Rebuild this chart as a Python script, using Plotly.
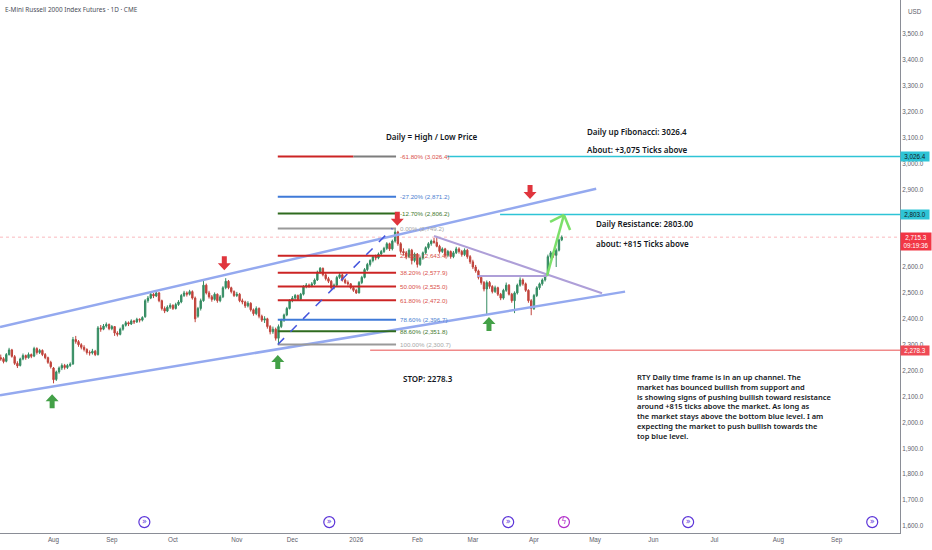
import pandas as pd
import plotly.graph_objects as go

TITLE = "E-Mini Russell 2000 Index Futures · 1D · CME"
FIRST_DAY = "2025-07-07"

# daily OHLC (Jul 7 2025 -> Apr 15 2026)
opens = [2250, 2246, 2236, 2262, 2280, 2254, 2228, 2220, 2245, 2258, 2250, 2262, 2256, 2285, 2270, 2278, 2262, 2250, 2232, 2210,
         2166, 2195, 2210, 2220, 2212, 2220, 2226, 2320, 2312, 2300, 2290, 2282, 2270, 2268, 2275, 2262, 2365, 2360, 2372, 2378,
         2362, 2370, 2345, 2340, 2360, 2375, 2385, 2380, 2392, 2388, 2398, 2395, 2408, 2470, 2480, 2495, 2488, 2500, 2470, 2440,
         2430, 2445, 2452, 2440, 2455, 2465, 2490, 2500, 2495, 2505, 2480, 2410, 2440, 2470, 2530, 2500, 2485, 2475, 2495, 2470,
         2485, 2520, 2545, 2520, 2505, 2490, 2495, 2470, 2465, 2450, 2460, 2435, 2420, 2440, 2410, 2395, 2400, 2370, 2350, 2360,
         2325, 2370, 2395, 2415, 2440, 2470, 2480, 2490, 2475, 2495, 2525, 2530, 2528, 2535, 2550, 2580, 2595, 2570, 2555, 2545,
         2520, 2530, 2560, 2570, 2550, 2540, 2535, 2520, 2510, 2500, 2540, 2560, 2590, 2610, 2625, 2640, 2635, 2650, 2660, 2672,
         2690, 2670, 2700, 2735, 2690, 2660, 2655, 2640, 2665, 2625, 2650, 2610, 2635, 2655, 2675, 2690, 2700, 2695, 2680, 2660,
         2670, 2645, 2660, 2640, 2655, 2670, 2660, 2648, 2665, 2640, 2620, 2600, 2585, 2560, 2540, 2515, 2540, 2525, 2505, 2520,
         2495, 2480, 2510, 2530, 2495, 2470, 2500, 2530, 2550, 2535, 2510, 2470, 2440, 2490, 2520, 2535, 2550, 2568, 2640, 2655,
         2645, 2665, 2705]
highs = [2262, 2252, 2268, 2288, 2284, 2260, 2236, 2250, 2266, 2262, 2270, 2266, 2292, 2290, 2284, 2282, 2268, 2254, 2238, 2214,
         2200, 2216, 2228, 2226, 2226, 2232, 2330, 2334, 2318, 2306, 2298, 2286, 2278, 2284, 2280, 2372, 2376, 2380, 2386, 2382,
         2376, 2372, 2352, 2366, 2380, 2392, 2390, 2398, 2396, 2404, 2402, 2410, 2476, 2488, 2506, 2500, 2511, 2504, 2474, 2448,
         2452, 2460, 2456, 2462, 2472, 2496, 2508, 2506, 2512, 2510, 2486, 2446, 2478, 2550, 2536, 2508, 2492, 2502, 2498, 2492,
         2526, 2557, 2550, 2524, 2510, 2504, 2500, 2478, 2470, 2468, 2464, 2440, 2448, 2444, 2416, 2410, 2404, 2376, 2370, 2366,
         2378, 2400, 2420, 2446, 2476, 2488, 2496, 2494, 2500, 2530, 2538, 2536, 2542, 2556, 2586, 2600, 2598, 2576, 2562, 2550,
         2536, 2566, 2578, 2574, 2556, 2548, 2538, 2526, 2516, 2546, 2566, 2596, 2616, 2630, 2646, 2648, 2656, 2666, 2678, 2696,
         2694, 2706, 2749.2, 2740, 2696, 2672, 2662, 2672, 2670, 2656, 2654, 2640, 2660, 2680, 2696, 2706, 2712, 2720, 2686, 2676,
         2674, 2666, 2664, 2662, 2678, 2676, 2666, 2672, 2670, 2646, 2628, 2608, 2590, 2566, 2546, 2548, 2546, 2530, 2528, 2524,
         2500, 2516, 2540, 2534, 2500, 2506, 2536, 2560, 2556, 2540, 2514, 2476, 2496, 2526, 2540, 2556, 2570, 2648, 2662, 2660,
         2672, 2710, 2722]
lows = [2238, 2228, 2232, 2258, 2250, 2222, 2210, 2216, 2240, 2242, 2246, 2248, 2252, 2262, 2264, 2256, 2244, 2226, 2208, 2151,
        2160, 2188, 2202, 2204, 2206, 2214, 2222, 2304, 2292, 2282, 2274, 2262, 2258, 2262, 2256, 2258, 2350, 2356, 2366, 2356,
        2356, 2334, 2332, 2336, 2354, 2370, 2372, 2376, 2380, 2384, 2386, 2390, 2404, 2462, 2476, 2480, 2484, 2464, 2432, 2422,
        2426, 2438, 2434, 2436, 2450, 2460, 2484, 2486, 2490, 2474, 2387, 2404, 2432, 2466, 2494, 2478, 2466, 2470, 2462, 2464,
        2480, 2514, 2514, 2498, 2484, 2484, 2464, 2456, 2442, 2444, 2428, 2412, 2414, 2402, 2388, 2384, 2362, 2340, 2342, 2316,
        2300.7, 2364, 2388, 2410, 2436, 2464, 2470, 2470, 2470, 2490, 2518, 2520, 2522, 2530, 2546, 2574, 2564, 2548, 2538, 2512,
        2514, 2526, 2554, 2544, 2534, 2528, 2514, 2504, 2496, 2498, 2534, 2556, 2584, 2602, 2618, 2626, 2630, 2644, 2654, 2666,
        2662, 2664, 2694, 2682, 2652, 2644, 2630, 2634, 2610, 2618, 2598, 2604, 2628, 2650, 2668, 2682, 2690, 2676, 2652, 2654,
        2636, 2638, 2632, 2634, 2650, 2652, 2640, 2642, 2632, 2612, 2592, 2578, 2552, 2532, 2506, 2418, 2516, 2498, 2500, 2488,
        2472, 2474, 2504, 2490, 2462, 2422, 2494, 2524, 2528, 2504, 2462, 2414, 2434, 2484, 2512, 2528, 2544, 2564, 2632, 2636,
        2600, 2660, 2700]
closes = [2245, 2235, 2262, 2280, 2255, 2228, 2218, 2245, 2258, 2250, 2262, 2255, 2285, 2270, 2278, 2262, 2250, 2232, 2215, 2165,
          2195, 2210, 2220, 2212, 2220, 2225, 2320, 2312, 2300, 2290, 2282, 2270, 2268, 2275, 2262, 2365, 2360, 2372, 2378, 2362,
          2370, 2345, 2340, 2360, 2375, 2385, 2380, 2392, 2388, 2398, 2395, 2405, 2470, 2480, 2495, 2488, 2500, 2470, 2440, 2430,
          2445, 2452, 2440, 2455, 2465, 2490, 2500, 2495, 2505, 2480, 2400, 2440, 2470, 2530, 2500, 2485, 2475, 2495, 2470, 2485,
          2520, 2545, 2520, 2505, 2490, 2495, 2470, 2465, 2450, 2460, 2435, 2420, 2440, 2410, 2395, 2400, 2370, 2350, 2360, 2325,
          2370, 2395, 2415, 2440, 2470, 2480, 2490, 2475, 2495, 2525, 2530, 2528, 2535, 2550, 2580, 2595, 2570, 2555, 2545, 2520,
          2530, 2560, 2570, 2550, 2540, 2535, 2520, 2510, 2500, 2540, 2560, 2590, 2610, 2625, 2640, 2635, 2650, 2660, 2672, 2690,
          2670, 2700, 2735, 2690, 2660, 2655, 2640, 2665, 2625, 2650, 2610, 2635, 2655, 2675, 2690, 2700, 2695, 2680, 2660, 2670,
          2645, 2660, 2640, 2655, 2670, 2660, 2648, 2665, 2640, 2620, 2600, 2585, 2560, 2540, 2515, 2540, 2525, 2505, 2520, 2495,
          2480, 2510, 2530, 2495, 2470, 2500, 2530, 2550, 2535, 2510, 2470, 2440, 2490, 2520, 2535, 2550, 2565, 2640, 2655, 2645,
          2665, 2705, 2715.3]

# fibonacci retracement drawn from the Nov low to the Jan high
fib_start, fib_end = "2025-11-21 18:00", "2026-01-21 08:00"
fib_pcts = ["-61.80%", "-27.20%", "-12.70%", "0.00%", "23.60%", "38.20%", "50.00%", "61.80%", "78.60%", "88.60%", "100.00%"]
fib_levels = [3026.4, 2871.2, 2806.2, 2749.2, 2643.4, 2577.9, 2525.0, 2472.0, 2396.7, 2351.8, 2300.7]
fib_kind = ["red", "blue", "green", "gray", "red", "red", "red", "red", "blue", "green", "gray"]

month_ticks = ["2025-08-01", "2025-09-01", "2025-10-01", "2025-11-03", "2025-12-01", "2026-01-01", "2026-02-02",
               "2026-03-02", "2026-04-01", "2026-05-01", "2026-06-01", "2026-07-01", "2026-08-03", "2026-09-01"]
month_text = ["Aug", "Sep", "Oct", "Nov", "Dec", "2026", "Feb", "Mar", "Apr", "May", "Jun", "Jul", "Aug", "Sep"]
# 2,700 and 2,800 sit fully under the price boxes
price_ticks = [1600, 1700, 1800, 1900, 2000, 2100, 2200, 2300, 2400, 2500,
               2600, 2900, 3000, 3100, 3200, 3300, 3400, 3500]

event_days = ["2025-09-16 17:00", "2025-12-18 07:00", "2026-03-18 17:00", "2026-06-17 12:00", "2026-09-17 19:00"]
alert_day = "2026-04-15 19:00"

last_price = 2715.3
stop_price = 2278.3
resistance = 2803.0
fib_target = 3026.4

UP, DOWN = "#348c62", "#c0433b"
LINE_COL = {"red": "#cc2424", "blue": "#3f7ad8", "green": "#2f6b1f", "gray": "#9a9a9a"}
LABEL_COL = {"red": "#d9504a", "blue": "#4a80d0", "green": "#3f7a2e", "gray": "#a8a8a8"}
CHANNEL = "#94a9ef"
TRI = "#ae9fd8"
CYAN = "#2ec4d6"
TXT = "#131722"
AX = "#5d606b"
FONT = "Noto Sans"

PW, PH = 900, 533  # plot area in px


def px(x):
    return x / PW


def py(y):
    return 1 - y / PH


dates = pd.bdate_range(FIRST_DAY, periods=len(closes))

fig = go.Figure()
fig.add_trace(go.Candlestick(
    x=dates, open=opens, high=highs, low=lows, close=closes,
    increasing=dict(line=dict(color=UP, width=1), fillcolor=UP),
    decreasing=dict(line=dict(color=DOWN, width=1), fillcolor=DOWN),
    whiskerwidth=0, showlegend=False, hoverinfo="skip"))

shapes = []


def seg(x0, y0, x1, y1, color, width=2, dash="solid", xref="x"):
    shapes.append(dict(type="line", xref=xref, yref="y", x0=x0, y0=y0, x1=x1, y1=y1,
                       line=dict(color=color, width=width, dash=dash), layer="above"))


# current price line
shapes.append(dict(type="line", xref="paper", yref="y", x0=0, x1=1, y0=last_price, y1=last_price,
                   line=dict(color="rgba(242,54,69,0.35)", width=1, dash="dot"), layer="below"))

# channel
seg("2025-07-04 17:30", 2368, "2026-05-01 09:36", 2902, CHANNEL, 2.5)
seg("2025-07-04 17:30", 2105, "2026-05-15 19:12", 2505, CHANNEL, 2.5)

# fib levels
for lvl, kind in zip(fib_levels, fib_kind):
    if lvl == fib_target:
        seg(fib_start, lvl, "2025-12-31", lvl, LINE_COL["red"], 2)
        seg("2025-12-31", lvl, fib_end, lvl, "#7d7d7d", 2)
    else:
        seg(fib_start, lvl, fib_end, lvl, LINE_COL[kind], 2)
seg(fib_start, fib_levels[-1], "2026-01-20", fib_levels[3], "#4455dd", 1.5, "dash")

# horizontal levels to the right axis
seg("2026-02-16 19:00", fib_target, "2026-10-01 19:00", fib_target, CYAN, 1.5)
seg("2026-03-13 19:00", resistance, "2026-10-01 19:00", resistance, CYAN, 1.5)
seg("2026-01-08", stop_price, "2026-10-01 19:00", stop_price, "#f08a8a", 1.5)

# triangle
seg("2026-02-10", 2720, "2026-05-05 12:00", 2499, TRI, 2)
seg("2026-03-03 12:00", 2565, "2026-04-07 17:00", 2565, TRI, 2)

# green projection arrow
GREEN_ARROW = "#7be06a"
seg("2026-04-07 17:00", 2567, "2026-04-15 19:00", 2801, GREEN_ARROW, 2.5)
seg("2026-04-15 19:00", 2801, "2026-04-08 19:00", 2774, GREEN_ARROW, 2.5)
seg("2026-04-15 19:00", 2801, "2026-04-20 00:00", 2743, GREEN_ARROW, 2.5)

# block arrows (pixel sized)
UP_PATH = "M 0 7 L 6.5 0 L 2.5 0 L 2.5 -7 L -2.5 -7 L -2.5 0 L -6.5 0 Z"
DOWN_PATH = "M 0 -7 L 6.5 0 L 2.5 0 L 2.5 7 L -2.5 7 L -2.5 0 L -6.5 0 Z"
for xa, ya in [("2025-10-27 12:00", 2615), ("2026-01-21 19:00", 2786), ("2026-03-30 14:00", 2890)]:
    shapes.append(dict(type="path", xref="x", yref="y", xsizemode="pixel", ysizemode="pixel",
                       xanchor=xa, yanchor=ya, path=DOWN_PATH, fillcolor="#e0353d", line=dict(width=0)))
for xa, ya in [("2025-07-31 12:00", 2082), ("2025-11-21 18:00", 2233), ("2026-03-09 19:00", 2380)]:
    shapes.append(dict(type="path", xref="x", yref="y", xsizemode="pixel", ysizemode="pixel",
                       xanchor=xa, yanchor=ya, path=UP_PATH, fillcolor="#43a047", line=dict(width=0)))

# economic event icons along the bottom
ICON_Y = 1615
fig.add_trace(go.Scatter(
    x=event_days, y=[ICON_Y] * len(event_days), mode="markers+text", text=["»"] * len(event_days),
    textposition="middle center", textfont=dict(size=8, color="#5b34d8", family="DejaVu Sans"),
    marker=dict(symbol="circle", size=11, color="white", line=dict(color="#5b34d8", width=1.2)),
    showlegend=False, hoverinfo="skip", cliponaxis=False))
fig.add_trace(go.Scatter(
    x=[alert_day], y=[ICON_Y], mode="markers+text", text=["ϟ"], textposition="middle center",
    textfont=dict(size=8, color="#b02cc8", family="DejaVu Sans"),
    marker=dict(symbol="circle", size=11, color="white", line=dict(color="#b02cc8", width=1.2)),
    showlegend=False, hoverinfo="skip", cliponaxis=False))

ann = []


def note(x, y, text, size=8, color=TXT, weight=600, xanchor="left", yanchor="middle", align="left"):
    ann.append(dict(xref="paper", yref="paper", x=px(x), y=py(y), text=text, showarrow=False,
                    xanchor=xanchor, yanchor=yanchor, align=align,
                    font=dict(family=FONT, size=size, color=color, weight=weight)))


note(3, 10, TITLE, size=6.4, color="#4a4d57", weight=400)
note(384, 137, "Daily = High / Low Price")
note(585, 131, "Daily up Fibonacci: 3026.4")
note(585, 150, "About: +3,075 Ticks above")
note(594, 223, "Daily Resistance: 2803.00")
note(594, 243, "about: +815 Ticks above")
note(401, 378, "STOP: 2278.3")
note(635, 370, "RTY Daily time frame is in an up channel. The<br>market has bounced bullish from support and<br>"
     "is showing signs of pushing bullish toward resistance<br>around +815 ticks above the market. As long as<br>"
     "the market stays above the bottom blue level. I am<br>expecting the market to push bullish towards the<br>"
     "top blue level.", size=7.5, yanchor="top")

# fib labels
for lvl, pct, kind in zip(fib_levels, fib_pcts, fib_kind):
    ann.append(dict(xref="x", yref="y", x=fib_end, y=lvl, text=f"{pct} ({lvl:,.1f})", showarrow=False,
                    xanchor="left", yanchor="middle", xshift=2,
                    font=dict(family="Liberation Sans", size=6.2, color=LABEL_COL[kind])))

# price boxes on the axis
for price, text, bg, fg in [(fib_target, "3,026.4", CYAN, TXT), (resistance, "2,803.0", CYAN, TXT),
                            (stop_price, "2,278.3", "#ef4a55", "white")]:
    ann.append(dict(xref="paper", yref="y", x=1, y=price, text=text, showarrow=False, xanchor="left",
                    yanchor="middle", bgcolor=bg, width=28, height=9, borderpad=0,
                    font=dict(family="Liberation Sans", size=6.3, color=fg)))
ann.append(dict(xref="paper", yref="y", x=1, y=last_price, text="2,715.3<br>09:19:36", showarrow=False,
                xanchor="left", yanchor="top", yshift=5, bgcolor="#f23645", width=28, borderpad=1,
                font=dict(family="Liberation Sans", size=6.3, color="white")))
ann.append(dict(xref="paper", yref="paper", x=1, y=py(11), xshift=6, text="USD", showarrow=False,
                xanchor="left", yanchor="middle", font=dict(family="Liberation Sans", size=6.3, color=AX)))

fig.update_layout(
    width=932, height=550, margin=dict(l=0, r=32, t=0, b=17),
    paper_bgcolor="white", plot_bgcolor="white",
    shapes=shapes, annotations=ann, showlegend=False,
    xaxis=dict(type="date", range=["2025-07-04 17:30", "2026-10-01 19:00"],
               rangebreaks=[dict(bounds=["sat", "mon"])], rangeslider=dict(visible=False),
               tickmode="array", tickvals=month_ticks, ticktext=month_text,
               showgrid=False, zeroline=False, showline=True, linecolor="#8a8d96", linewidth=1,
               ticks="", tickfont=dict(family="Liberation Sans", size=6.3, color=AX)),
    yaxis=dict(side="right", range=[1573, 3631], tickmode="array", tickvals=price_ticks, tickformat=",.1f",
               showgrid=False, zeroline=False, showline=True, linecolor="#8a8d96", linewidth=1,
               ticks="", tickfont=dict(family="Liberation Sans", size=6.3, color=AX)),
)

# the page body has a default 8px margin; drop it so the figure fills the window
fig.write_html("out.html", config={"displayModeBar": False},
               post_script="document.body.style.margin='0';")
